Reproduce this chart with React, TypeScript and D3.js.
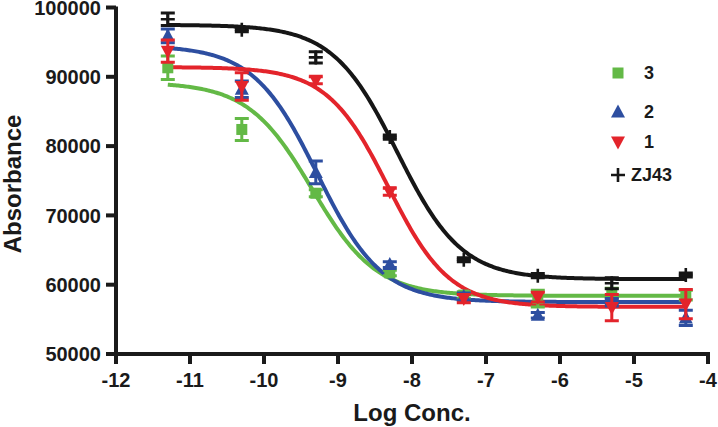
import React from "react";
import * as d3 from "d3";

const logConc = [-11.3, -10.3, -9.3, -8.3, -7.3, -6.3, -5.3, -4.3];

// mean absorbance per compound
const s3 = [91300, 82400, 73200, 61700, 58500, 58000, 58800, 58500];
const s3Err = [1700, 1600, 500, 400, 500, 1200, 700, 700];
const s2 = [95900, 88200, 76200, 62900, 58300, 55600, 57500, 55200];
const s2Err = [1000, 1200, 1650, 400, 500, 400, 500, 1100];
const s1 = [93700, 88600, 89500, 73400, 58000, 58200, 56700, 57200];
const s1Err = [1600, 2000, 500, 500, 600, 700, 1900, 2100];
const zj43 = [98300, 96800, 92800, 81300, 63600, 61300, 60200, 61400];
const zj43Err = [900, 300, 800, 300, 300, 300, 800, 300];

// fitted 4PL params: top, bottom, logEC50, hill
const fit3 = [89200, 58400, -9.35, 1];
const fit2 = [94500, 57500, -9.28, 1];
const fit1 = [91400, 56800, -8.32, 1.05];
const fitZ = [97500, 60800, -8.2, 1];

const names = ["3", "2", "1", "ZJ43"];
const colors = ["#63b946", "#2d4ea0", "#e3242b", "#161616"];
const shapes = ["square", "up", "down", "plus"];

const xTicks = [-12, -11, -10, -9, -8, -7, -6, -5, -4];
const yTicks = [50000, 60000, 70000, 80000, 90000, 100000];

const W = 718;
const H = 427;

const x = d3.scaleLinear().domain([-12, -4]).range([116, 708]);
const y = d3.scaleLinear().domain([50000, 100000]).range([354, 7.5]);

const series = [
  { vals: s3, err: s3Err, fit: fit3 },
  { vals: s2, err: s2Err, fit: fit2 },
  { vals: s1, err: s1Err, fit: fit1 },
  { vals: zj43, err: zj43Err, fit: fitZ },
];

const font = "'Liberation Sans', Arial, Helvetica, sans-serif";

function Marker({ shape, cx, cy, color }: { shape: string; cx: number; cy: number; color: string }) {
  if (shape === "square") {
    return <rect x={cx - 5.5} y={cy - 5.5} width={11} height={11} fill={color} />;
  }
  if (shape === "up") {
    return (
      <path
        d={`M${cx},${cy - 7.5}L${cx + 7},${cy + 5.5}L${cx - 7},${cy + 5.5}Z`}
        fill={color}
      />
    );
  }
  if (shape === "down") {
    return (
      <path
        d={`M${cx},${cy + 7.5}L${cx + 7},${cy - 5.5}L${cx - 7},${cy - 5.5}Z`}
        fill={color}
      />
    );
  }
  return (
    <path
      d={`M${cx - 7},${cy}H${cx + 7}M${cx},${cy - 7}V${cy + 7}`}
      stroke={color}
      strokeWidth={2.6}
      fill="none"
    />
  );
}

export default function App() {
  const grid = d3.range(-11.3, -4.29, 0.02);
  const line = d3.line<number>().x((d) => x(d));

  return (
    <svg
      width={W}
      height={H}
      style={{ position: "absolute", left: 0, top: 0, background: "#fff" }}
      fontFamily={font}
    >
      {/* fitted curves */}
      {series.map((s, i) => {
        const [top, bottom, ec, hill] = s.fit;
        const f = (v: number) => bottom + (top - bottom) / (1 + Math.pow(10, (v - ec) * hill));
        return (
          <path
            key={"c" + i}
            d={line.y((d) => y(f(d)))(grid) || ""}
            fill="none"
            stroke={colors[i]}
            strokeWidth={4}
          />
        );
      })}

      {/* error bars + points */}
      {series.map((s, i) => (
        <g key={"p" + i}>
          {s.vals.map((v, j) => {
            const cx = x(logConc[j]);
            const hi = y(v + s.err[j]);
            const lo = y(v - s.err[j]);
            return (
              <g key={j}>
                <path
                  d={`M${cx},${hi}V${lo}M${cx - 7},${hi}H${cx + 7}M${cx - 7},${lo}H${cx + 7}`}
                  stroke={colors[i]}
                  strokeWidth={3}
                  fill="none"
                />
                <Marker shape={shapes[i]} cx={cx} cy={y(v)} color={colors[i]} />
              </g>
            );
          })}
        </g>
      ))}

      {/* axes */}
      <g stroke="#1a1a1a" strokeWidth={4} fill="none">
        <path d={`M${x(-12)},${y(100000) - 1}V${y(50000)}H${x(-4) + 2}`} />
        {yTicks.map((t) => (
          <path key={t} d={`M${x(-12) - 10},${y(t)}H${x(-12)}`} />
        ))}
        {xTicks.map((t) => (
          <path key={t} d={`M${x(t)},${y(50000)}V${y(50000) + 10}`} />
        ))}
      </g>
      <g fontSize={20} fontWeight="bold" fill="#1a1a1a">
        {yTicks.map((t) => (
          <text key={t} x={101} y={y(t)} dy="0.36em" textAnchor="end">
            {t}
          </text>
        ))}
        {xTicks.map((t) => (
          <text key={t} x={x(t)} y={387} textAnchor="middle">
            {t}
          </text>
        ))}
      </g>
      <text x={412} y={421} fontSize={24} fontWeight="bold" textAnchor="middle" fill="#1a1a1a">
        Log Conc.
      </text>
      <text
        transform="translate(21,184) rotate(-90)"
        fontSize={24}
        fontWeight="bold"
        textAnchor="middle"
        fill="#1a1a1a"
      >
        Absorbance
      </text>

      {/* legend */}
      {names.map((n, i) => {
        const ly = [73, 112, 142, 175][i];
        return (
          <g key={n}>
            <Marker shape={shapes[i]} cx={618} cy={ly} color={colors[i]} />
            <text
              x={i === 3 ? 631 : 644}
              y={ly}
              dy="0.36em"
              fontSize={18}
              fontWeight="bold"
              fill="#1a1a1a"
            >
              {n}
            </text>
          </g>
        );
      })}
    </svg>
  );
}
